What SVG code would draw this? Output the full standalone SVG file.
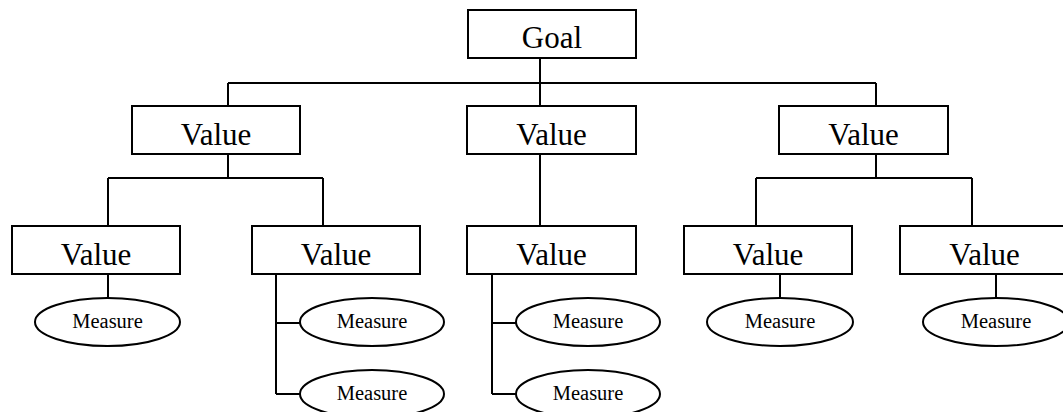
<svg xmlns="http://www.w3.org/2000/svg" width="1063" height="412" viewBox="0 0 1063 412">
  <style>
    .box { fill: #ffffff; stroke: #000000; stroke-width: 2; }
    .oval { fill: #ffffff; stroke: #000000; stroke-width: 2; }
    .link { fill: none; stroke: #000000; stroke-width: 2; }
    .big { font-family: "Liberation Serif", "Times New Roman", serif; font-size: 31px; fill: #000000; text-anchor: middle; }
    .small { font-family: "Liberation Serif", "Times New Roman", serif; font-size: 20.5px; fill: #000000; text-anchor: middle; }
  </style>
  <rect width="1063" height="412" fill="#ffffff"/>

  <!-- connectors -->
  <g id="connectors" class="link">
    <path d="M540 58 V83 M228 83 H876 M228 83 V106 M540 83 V106 M876 83 V106"/>
    <path d="M228 154 V178 M108 178 H323 M108 178 V226 M323 178 V226"/>
    <path d="M540 154 V226"/>
    <path d="M876 154 V178 M756 178 H972 M756 178 V226 M972 178 V226"/>
    <path d="M108 274 V298"/>
    <path d="M276 274 V394 M276 323 H300 M276 394 H300"/>
    <path d="M492 274 V394 M492 323 H516 M492 394 H516"/>
    <path d="M780 274 V298"/>
    <path d="M996 274 V298"/>
  </g>

  <g id="goal">
    <rect class="box" x="468" y="10" width="168" height="48"/>
    <text class="big" x="552" y="48">Goal</text>
  </g>

  <g id="value-a">
    <rect class="box" x="132" y="106" width="168" height="48"/>
    <text class="big" x="216" y="145">Value</text>
  </g>
  <g id="value-b">
    <rect class="box" x="467" y="106" width="169" height="48"/>
    <text class="big" x="551.5" y="145">Value</text>
  </g>
  <g id="value-c">
    <rect class="box" x="779" y="106" width="169" height="48"/>
    <text class="big" x="863.5" y="145">Value</text>
  </g>

  <g id="value-a1">
    <rect class="box" x="12" y="226" width="168" height="48"/>
    <text class="big" x="96" y="265">Value</text>
  </g>
  <g id="value-a2">
    <rect class="box" x="252" y="226" width="168" height="48"/>
    <text class="big" x="336" y="265">Value</text>
  </g>
  <g id="value-b1">
    <rect class="box" x="467" y="226" width="169" height="48"/>
    <text class="big" x="551.5" y="265">Value</text>
  </g>
  <g id="value-c1">
    <rect class="box" x="684" y="226" width="168" height="48"/>
    <text class="big" x="768" y="265">Value</text>
  </g>
  <g id="value-c2">
    <rect class="box" x="900" y="226" width="169" height="48"/>
    <text class="big" x="984.5" y="265">Value</text>
  </g>

  <g id="measure-a1">
    <ellipse class="oval" cx="107.5" cy="322" rx="72.5" ry="24"/>
    <text class="small" x="107.5" y="328">Measure</text>
  </g>
  <g id="measure-a2-1">
    <ellipse class="oval" cx="372" cy="322" rx="72" ry="24"/>
    <text class="small" x="372" y="328">Measure</text>
  </g>
  <g id="measure-a2-2">
    <ellipse class="oval" cx="372" cy="394" rx="72" ry="24"/>
    <text class="small" x="372" y="400">Measure</text>
  </g>
  <g id="measure-b1-1">
    <ellipse class="oval" cx="588" cy="322" rx="72" ry="24"/>
    <text class="small" x="588" y="328">Measure</text>
  </g>
  <g id="measure-b1-2">
    <ellipse class="oval" cx="588" cy="394" rx="72" ry="24"/>
    <text class="small" x="588" y="400">Measure</text>
  </g>
  <g id="measure-c1">
    <ellipse class="oval" cx="780" cy="322" rx="73" ry="24"/>
    <text class="small" x="780" y="328">Measure</text>
  </g>
  <g id="measure-c2">
    <ellipse class="oval" cx="996" cy="322" rx="73" ry="24"/>
    <text class="small" x="996" y="328">Measure</text>
  </g>
</svg>
